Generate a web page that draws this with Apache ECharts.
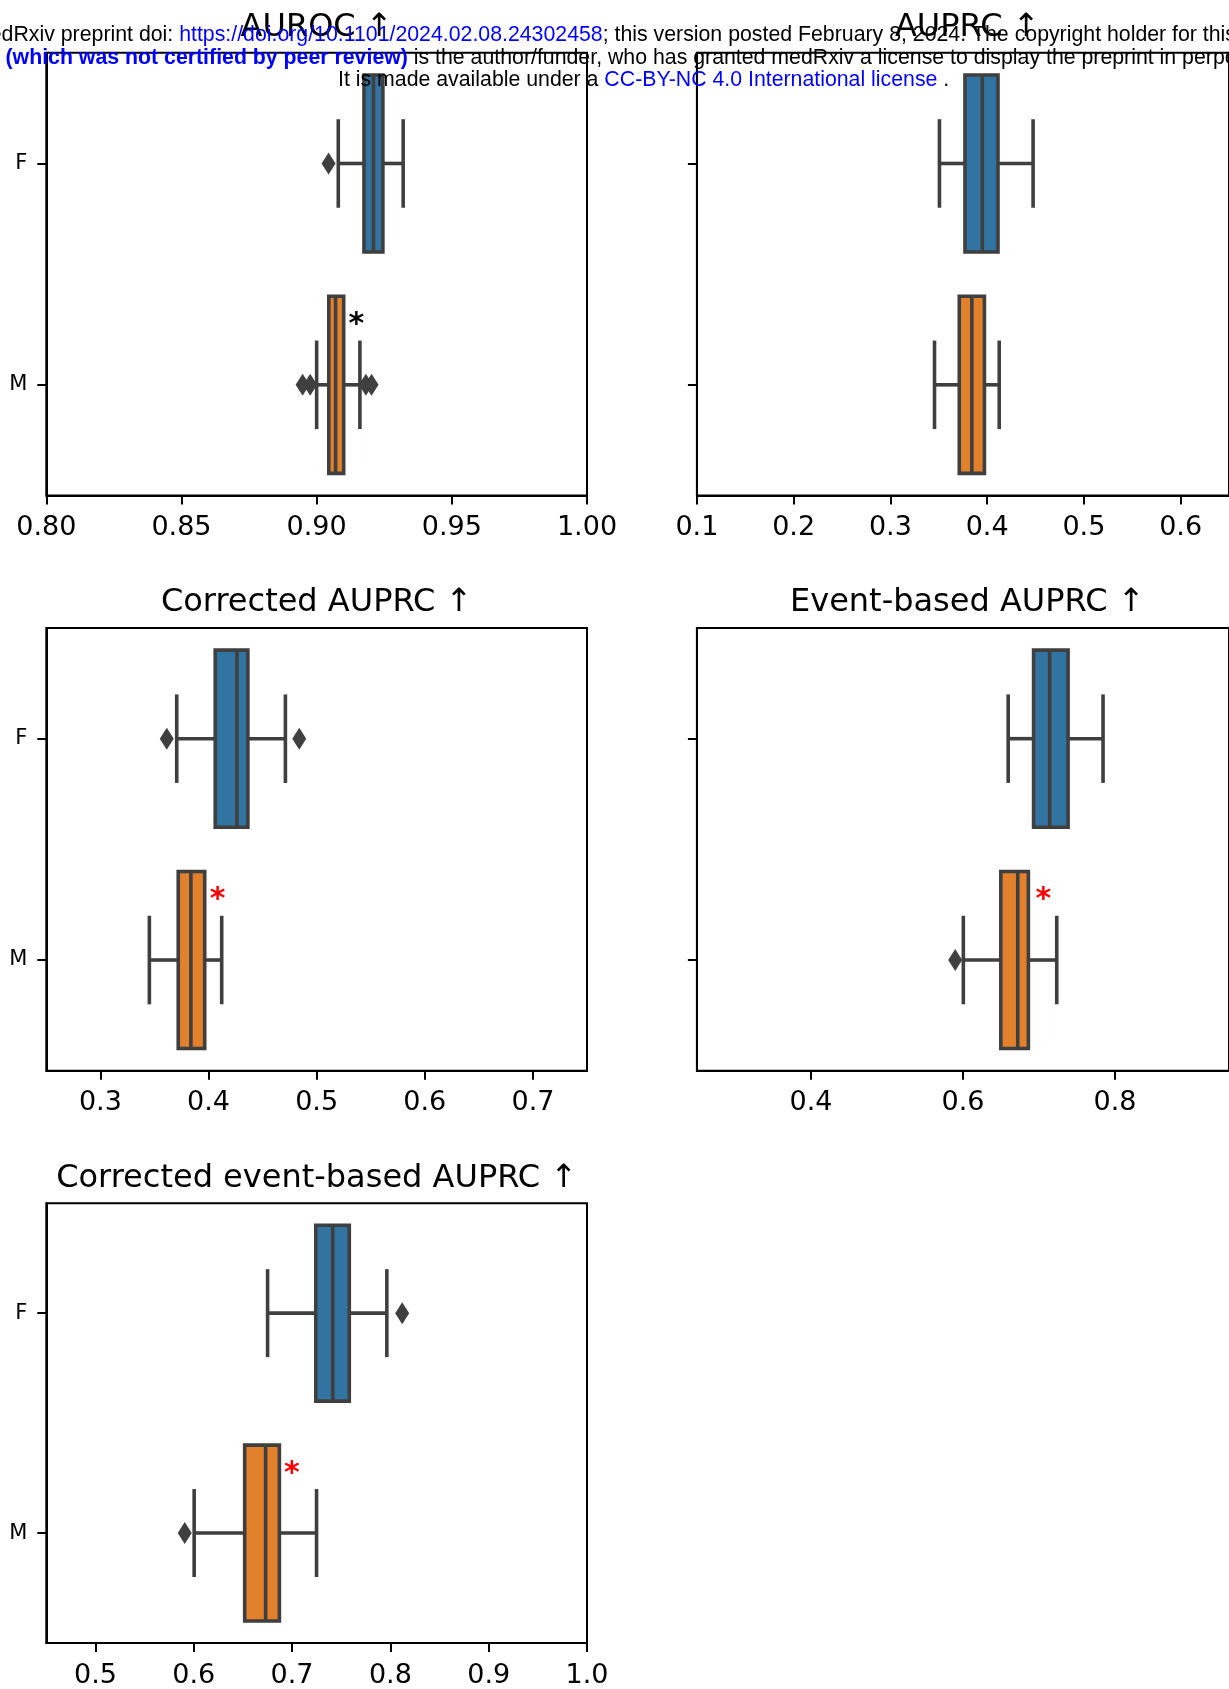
<!DOCTYPE html>
<html><head><meta charset="utf-8">
<script src="https://cdn.jsdelivr.net/npm/echarts@6/dist/echarts.min.js"></script>
<style>html,body{margin:0;padding:0;background:#fff}#c{width:1229px;height:1689px}</style>
</head><body><div id="c"></div><script>
// ---------------- data ----------------
const categories = ['F', 'M'];
const titles = ['AUROC \u2191', 'AUPRC \u2191', 'Corrected AUPRC \u2191', 'Event-based AUPRC \u2191', 'Corrected event-based AUPRC \u2191'];
// box stats: [lower whisker, Q1, median, Q3, upper whisker]
const aurocF = [0.908, 0.9175, 0.921, 0.9245, 0.932];
const aurocM = [0.900, 0.9045, 0.907, 0.910, 0.916];
const auprcF = [0.3507, 0.3771, 0.3950, 0.4112, 0.4475];
const auprcM = [0.3456, 0.3712, 0.3842, 0.3972, 0.4125];
const corrAuprcF = [0.3706, 0.4062, 0.4263, 0.4364, 0.4711];
const corrAuprcM = [0.3453, 0.3720, 0.3837, 0.3965, 0.4122];
const eventAuprcF = [0.6595, 0.6929, 0.7141, 0.7383, 0.7843];
const eventAuprcM = [0.6005, 0.6498, 0.6721, 0.6861, 0.7234];
const corrEventAuprcF = [0.6751, 0.7241, 0.7414, 0.7582, 0.7964];
const corrEventAuprcM = [0.6004, 0.6518, 0.6731, 0.6871, 0.7249];
// outliers
const aurocOutF = [0.9044];
const aurocOutM = [0.8948, 0.8976, 0.9182, 0.9203];
const auprcOutF = [];
const auprcOutM = [];
const corrAuprcOutF = [0.3614, 0.4839];
const corrAuprcOutM = [];
const eventAuprcOutF = [];
const eventAuprcOutM = [0.5898];
const corrEventAuprcOutF = [0.8120];
const corrEventAuprcOutM = [0.5908];
// significance markers (x value next to the M box)
const starX = [0.9147, null, 0.4084, 0.7058, 0.6998];
const starColor = ['#000000', null, '#ff0000', '#ff0000', '#ff0000'];
// axis ranges and tick labels
const xRanges = [[0.80, 1.00], [0.10, 0.65], [0.25, 0.75], [0.25, 0.95], [0.45, 1.00]];
const ticks0 = [0.80, 0.85, 0.90, 0.95, 1.00];
const ticks1 = [0.1, 0.2, 0.3, 0.4, 0.5, 0.6];
const ticks2 = [0.3, 0.4, 0.5, 0.6, 0.7];
const ticks3 = [0.4, 0.6, 0.8];
const ticks4 = [0.5, 0.6, 0.7, 0.8, 0.9, 1.0];
const tickDecimals = [2, 1, 1, 1, 1];

// ---------------- layout / style ----------------
const BLUE = '#3274a1', ORANGE = '#e1812c', EDGE = '#3f3f3f';
const LW = 3.6;
const gridPos = [
  {left: 46.3, top: 52.8}, {left: 696.9, top: 52.8},
  {left: 46.3, top: 628.0}, {left: 696.9, top: 628.0},
  {left: 46.3, top: 1203.2}
];
const GW = 540.7, GH = 442.7;

const boxes = [[aurocF, aurocM], [auprcF, auprcM], [corrAuprcF, corrAuprcM], [eventAuprcF, eventAuprcM], [corrEventAuprcF, corrEventAuprcM]];
const outs = [[aurocOutF, aurocOutM], [auprcOutF, auprcOutM], [corrAuprcOutF, corrAuprcOutM], [eventAuprcOutF, eventAuprcOutM], [corrEventAuprcOutF, corrEventAuprcOutM]];
const tickSets = [ticks0, ticks1, ticks2, ticks3, ticks4];

function renderBox(params, api) {
  const cat = api.value(0);
  const v = [api.value(1), api.value(2), api.value(3), api.value(4), api.value(5)];
  const p0 = api.coord([v[0], 0]), p1 = api.coord([v[0], 1]);
  const band = Math.abs(p1[1] - p0[1]);
  const y = api.coord([v[0], cat])[1];
  const h = band * 0.8;
  const x = v.map(d => api.coord([d, cat])[0]);
  const fill = cat === 0 ? BLUE : ORANGE;
  const ls = {stroke: EDGE, lineWidth: LW};
  return {type: 'group', children: [
    {type: 'line', shape: {x1: x[0], y1: y, x2: x[1], y2: y}, style: ls},
    {type: 'line', shape: {x1: x[3], y1: y, x2: x[4], y2: y}, style: ls},
    {type: 'line', shape: {x1: x[0], y1: y - h / 4, x2: x[0], y2: y + h / 4}, style: ls},
    {type: 'line', shape: {x1: x[4], y1: y - h / 4, x2: x[4], y2: y + h / 4}, style: ls},
    {type: 'rect', shape: {x: x[1], y: y - h / 2, width: x[3] - x[1], height: h}, style: {fill: fill, stroke: EDGE, lineWidth: LW}},
    {type: 'line', shape: {x1: x[2], y1: y - h / 2, x2: x[2], y2: y + h / 2}, style: ls}
  ]};
}

function renderStar(params, api) {
  const xv = api.value(1);
  const p0 = api.coord([xv, 0]), p1 = api.coord([xv, 1]);
  const band = Math.abs(p1[1] - p0[1]);
  return {type: 'text', x: p1[0], y: p1[1] - 0.3 * band + 7,
    style: {text: '*', fill: api.visual('color'), font: 'bold 30px "DejaVu Sans"', align: 'center', verticalAlign: 'middle'}};
}

const grids = [], xAxes = [], yAxes = [], series = [], graphics = [];
for (let i = 0; i < 5; i++) {
  grids.push({left: gridPos[i].left, top: gridPos[i].top, width: GW, height: GH, show: true, borderColor: '#000', borderWidth: 2, backgroundColor: 'transparent'});
  const dec = tickDecimals[i];
  xAxes.push({type: 'value', gridIndex: i, min: xRanges[i][0], max: xRanges[i][1],
    axisLine: {show: true, onZero: false, lineStyle: {color: '#000', width: 2}},
    axisTick: {show: true, length: 9, inside: false, lineStyle: {color: '#000', width: 2}, customValues: tickSets[i]},
    axisLabel: {show: true, customValues: tickSets[i], formatter: v => Number(v).toFixed(dec), color: '#000', fontFamily: 'DejaVu Sans', fontSize: 27, margin: 19},
    splitLine: {show: false}});
  const showY = (i % 2 === 0);
  yAxes.push({type: 'category', gridIndex: i, data: categories, inverse: true,
    axisLine: {show: true, lineStyle: {color: '#000', width: 2}},
    axisTick: {show: true, alignWithLabel: true, length: 9, lineStyle: {color: '#000', width: 2}},
    axisLabel: {show: showY, color: '#000', fontFamily: 'DejaVu Sans', fontSize: 21, margin: 19},
    splitLine: {show: false}});
  series.push({type: 'custom', xAxisIndex: i, yAxisIndex: i, renderItem: renderBox, encode: {x: [1, 2, 3, 4, 5], y: 0},
    data: [[0].concat(boxes[i][0]), [1].concat(boxes[i][1])], z: 2, silent: true});
  const outData = [];
  outs[i][0].forEach(v => outData.push([v, 'F']));
  outs[i][1].forEach(v => outData.push([v, 'M']));
  series.push({type: 'scatter', xAxisIndex: i, yAxisIndex: i, data: outData, symbol: 'diamond', symbolSize: [14, 22],
    itemStyle: {color: EDGE, opacity: 1}, z: 3, silent: true});
  if (starX[i] !== null) {
    series.push({type: 'custom', xAxisIndex: i, yAxisIndex: i, renderItem: renderStar, encode: {x: 1, y: 0},
      itemStyle: {color: starColor[i]}, data: [[1, starX[i]]], z: 4, silent: true});
  }
  graphics.push({type: 'text', x: gridPos[i].left + GW / 2, y: gridPos[i].top - 25, z: 50,
    style: {text: titles[i], font: '32px "DejaVu Sans"', fill: '#000', align: 'center', verticalAlign: 'middle'}});
}

// medRxiv header overlay
const hdrFont = '"Liberation Sans", Arial, sans-serif';
const HS = 21.3;
graphics.push({type: 'text', x: -28, y: 35.5, z: 100, style: {
  text: '{k|medRxiv preprint doi: }{b|https://doi.org/10.1101/2024.02.08.24302458}{k|; this version posted February 8, 2024. The copyright holder for this preprint}',
  verticalAlign: 'middle', align: 'left',
  rich: {k: {fill: '#000', fontSize: HS, fontFamily: hdrFont}, b: {fill: '#0000ff', fontSize: HS, fontFamily: hdrFont}}}});
graphics.push({type: 'text', x: 5.5, y: 58.5, z: 100, style: {
  text: '{bb|(which was not certified by peer review)}{k| is the author/funder, who has granted medRxiv a license to display the preprint in perpetuity.}',
  verticalAlign: 'middle', align: 'left',
  rich: {k: {fill: '#000', fontSize: HS, fontFamily: hdrFont}, bb: {fill: '#0000ff', fontSize: HS, fontWeight: 'bold', fontFamily: hdrFont}}}});
graphics.push({type: 'text', x: 338, y: 80.5, z: 100, style: {
  text: '{k|It is made available under a }{b|CC-BY-NC 4.0 International license}{k| .}',
  verticalAlign: 'middle', align: 'left',
  rich: {k: {fill: '#000', fontSize: HS, fontFamily: hdrFont}, b: {fill: '#0000ff', fontSize: HS, fontFamily: hdrFont}}}});

const chart = echarts.init(document.getElementById('c'), null, {renderer: 'canvas'});
chart.setOption({
  animation: false,
  backgroundColor: '#fff',
  grid: grids, xAxis: xAxes, yAxis: yAxes, series: series, graphic: graphics
});
</script></body></html>
